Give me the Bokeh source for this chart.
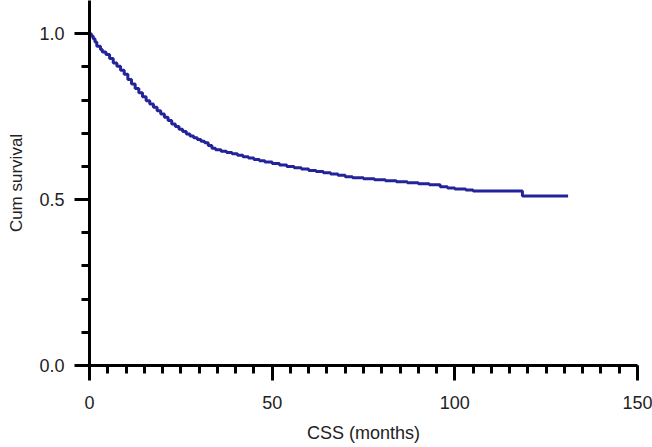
from bokeh.plotting import figure
from bokeh.models import FixedTicker, Range1d
from bokeh.embed import file_html
from bokeh.resources import INLINE

# Kaplan-Meier step data (months, cumulative survival)
months = [0, 0.5, 1, 1.5, 2, 3, 3.5, 4.5, 5.5, 6.5, 7.5, 8.5, 9.5, 10.5, 11.5,
          12.5, 13.5, 14.5, 15.5, 16.5, 17.5, 18.5, 19.5, 20.5, 21.5, 22.5,
          23.5, 24.5, 25.5, 26.5, 27.5, 28.5, 29.5, 30.5, 31.5, 32.5, 33.5,
          34.5, 36, 37.5, 39, 40.5, 42, 43.5, 45, 46.5, 48, 50, 52, 54, 56,
          58, 60, 62, 64, 66, 68, 70, 72, 75, 78, 81, 84, 87, 90, 93, 96, 98,
          100, 103, 105, 118.5, 131]
survival = [1.0, 0.993, 0.985, 0.975, 0.962, 0.952, 0.945, 0.937, 0.925, 0.912,
            0.902, 0.890, 0.878, 0.862, 0.848, 0.835, 0.822, 0.810, 0.798,
            0.788, 0.778, 0.768, 0.758, 0.748, 0.738, 0.728, 0.720, 0.712,
            0.705, 0.698, 0.692, 0.686, 0.681, 0.676, 0.671, 0.663, 0.655,
            0.650, 0.646, 0.642, 0.638, 0.634, 0.629, 0.625, 0.621, 0.617,
            0.613, 0.609, 0.604, 0.600, 0.596, 0.592, 0.588, 0.585, 0.581,
            0.577, 0.573, 0.569, 0.566, 0.563, 0.560, 0.557, 0.554, 0.551,
            0.548, 0.545, 0.539, 0.535, 0.532, 0.529, 0.526, 0.511, 0.511]

x_major = [0, 50, 100, 150]
x_minor = [0, 5, 10, 15, 20, 25, 30, 35, 40, 45, 50, 55, 60, 65, 70, 75, 80,
           85, 90, 95, 100, 105, 110, 115, 120, 125, 130, 135, 140, 145, 150]
y_major = [0.0, 0.5, 1.0]
y_minor = [0.0, 0.1, 0.2, 0.3, 0.4, 0.5, 0.6, 0.7, 0.8, 0.9, 1.0]
y_labels = {0.0: "0.0", 0.5: "0.5", 1.0: "1.0"}

p = figure(width=652, height=447, output_backend="svg", toolbar_location=None,
           x_range=Range1d(0, 150), y_range=Range1d(0, 1.1))
p.min_border_left = 89
p.min_border_right = 15
p.min_border_top = 0
p.min_border_bottom = 82
p.outline_line_color = None
p.grid.visible = False
p.background_fill_color = "white"
p.border_fill_color = "white"

p.step(months, survival, mode="after", line_color="#23239a", line_width=3)

FONT = "Liberation Sans"
for ax in (p.xaxis[0], p.yaxis[0]):
    ax.axis_line_width = 3
    ax.axis_line_color = "black"
    ax.major_tick_line_width = 3
    ax.minor_tick_line_width = 3
    ax.major_tick_in = 0
    ax.major_tick_out = 15
    ax.minor_tick_in = 0
    ax.minor_tick_out = 8
    ax.major_label_text_font = FONT
    ax.major_label_text_font_size = "18px"
    ax.major_label_text_color = "#222222"
    ax.axis_label_text_font = FONT
    ax.axis_label_text_font_style = "normal"
    ax.axis_label_text_color = "#222222"

p.xaxis.axis_label_text_font_size = "18px"
p.yaxis.axis_label_text_font_size = "17px"
p.xaxis.ticker = FixedTicker(ticks=x_major, minor_ticks=x_minor)
p.yaxis.ticker = FixedTicker(ticks=y_major, minor_ticks=y_minor)
p.yaxis.major_label_overrides = y_labels
p.xaxis.axis_label = "CSS (months)"
p.yaxis.axis_label = "Cum survival"
p.xaxis.major_label_standoff = 15
p.yaxis.major_label_standoff = 10
p.xaxis.axis_label_standoff = 11
p.yaxis.axis_label_standoff = 10

open("out.html", "w").write(file_html(p, INLINE))
